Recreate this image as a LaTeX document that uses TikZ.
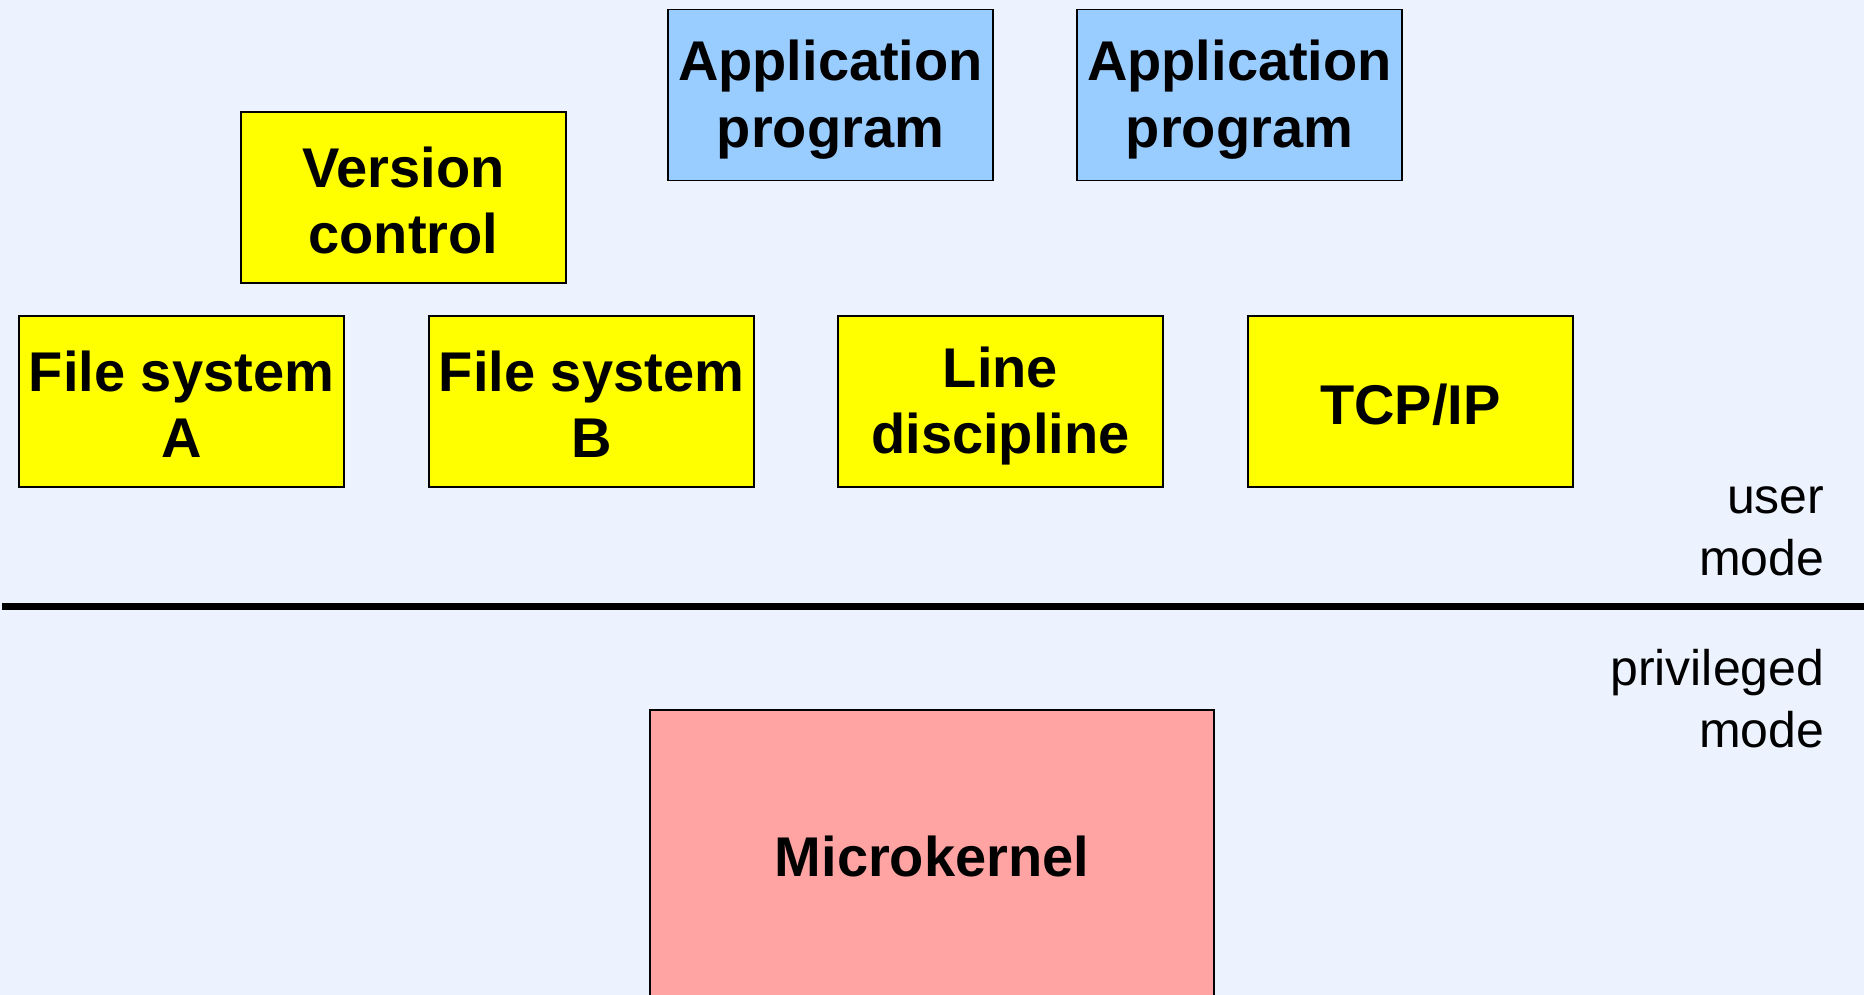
\documentclass[tikz,border=0pt]{standalone}
\usepackage{fontspec}
\setmainfont{Liberation Sans}
\definecolor{bgblue}{RGB}{236,242,254}
\definecolor{modyellow}{RGB}{255,255,0}
\definecolor{appblue}{RGB}{153,204,255}
\definecolor{kernpink}{RGB}{255,163,163}
% fixed line height/depth so every label sits at the same place in its box
\newcommand{\ls}{\rule[-4.2pt]{0pt}{54.2pt}}
\tikzset{
  layerbox/.style={draw=black, line width=1.6pt, minimum width=325pt, minimum height=171pt,
    inner sep=0pt, align=center, font=\fontsize{56}{66.6}\selectfont\bfseries},
  serverbox/.style={layerbox, fill=modyellow},
  appbox/.style={layerbox, fill=appblue},
  modelabel/.style={anchor=east, align=right, inner sep=0pt, font=\fontsize{50}{62}\selectfont}
}
\begin{document}
\begin{tikzpicture}[x=1pt,y=-1pt]
  \useasboundingbox (0,0) rectangle (1864,995);
  \fill[bgblue] (0,0) rectangle (1864,995);
  \clip (0,0) rectangle (1864,995);

  % user-mode processes
  \node[appbox] (app1) at (830.5,95) {\ls Application\\\ls program};
  \node[appbox] (app2) at (1239.5,95) {\ls Application\\\ls program};
  \node[serverbox] (vc) at (403.5,197.5) {\ls Version\\\ls control};
  \node[serverbox] (fsa) at (181.5,401.5) {\ls File system\\\ls A};
  \node[serverbox] (fsb) at (591.5,401.5) {\ls File system\\\ls B};
  \node[serverbox] (ld) at (1000.5,401.5) {\ls Line\\\ls discipline};
  \node[serverbox] (tcp) at (1410.5,401.5) {\ls TCP/IP};

  % boundary between user and privileged mode
  \coordinate (sepL) at (2,606);
  \coordinate (sepR) at (1864,606);
  \draw[line width=7pt] (sepL) -- (sepR);

  \node[modelabel] (umode) at (1824.5,531) {user\\mode};
  \node[modelabel] (pmode) at (1824.5,699) {privileged\\mode};

  % kernel
  \node[layerbox, fill=kernpink, minimum width=564pt, minimum height=292pt] (mk) at (932,856) {Microkernel};
\end{tikzpicture}
\end{document}
